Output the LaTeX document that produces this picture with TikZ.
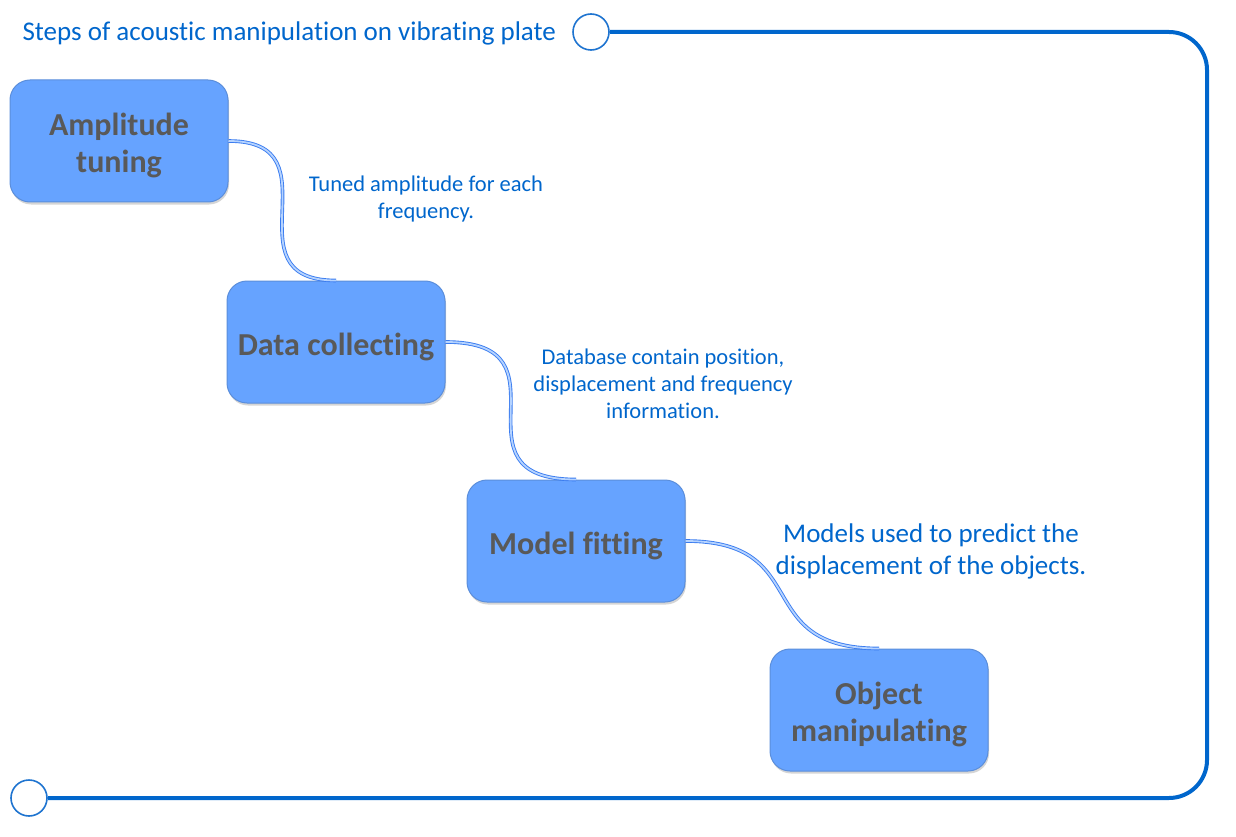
\documentclass[tikz,border=0pt]{standalone}
\usepackage{fontspec}
\setmainfont{Carlito}[Ligatures=CommonOff]
\usetikzlibrary{shadows}
\definecolor{frameblue}{HTML}{0066CC}
\definecolor{ringblue}{HTML}{1F74D0}
\definecolor{boxfill}{HTML}{66A3FF}
\definecolor{boxedge}{HTML}{5B8EDB}
\definecolor{boxtext}{HTML}{595959}
\definecolor{labelblue}{HTML}{0066CC}
\definecolor{linkedge}{HTML}{3A7CF0}
\definecolor{linkfill}{HTML}{B5D3FF}
\begin{document}
\begin{tikzpicture}[x=1pt,y=-1pt,
  stepbox/.style={draw=boxedge, fill=boxfill, line width=1pt, rounded corners=20pt,
    minimum width=218pt, minimum height=122pt, inner sep=0pt,
    drop shadow={shadow xshift=1pt, shadow yshift=-2.5pt, fill=gray!60, opacity=0.55}},
  steptext/.style={align=center, inner sep=0pt, text=boxtext, font=\fontsize{32}{37}\selectfont\bfseries},
  link/.style={draw=linkedge, line width=0.9pt, double=linkfill, double distance=1.8pt},
  note/.style={text=labelblue, align=center},
  frame/.style={draw=frameblue, line width=4pt},
  ring/.style={draw=ringblue, line width=1.6pt, fill=white, circle, minimum size=36pt, inner sep=0pt}]
\useasboundingbox (0,0) rectangle (1236,837);

\node[stepbox] (amp) at (119,141) {};
\node[stepbox] (data) at (336,342) {};
\node[stepbox] (model) at (576,541) {};
\node[stepbox] (obj) at (879,710) {};
\node[steptext] (amp-t) at ([yshift=-4.5pt]amp.center) {Amplitude\\tuning};
\node[steptext] (data-t) at ([yshift=-4.5pt]data.center) {Data collecting};
\node[steptext] (model-t) at ([yshift=-4.5pt]model.center) {Model fitting};
\node[steptext] (obj-t) at ([yshift=-4.5pt]obj.center) {Object\\manipulating};

\draw[link] (amp.east) .. controls +(112,0) and +(-112,0) .. (data.north);
\draw[link] (data.east) .. controls +(133,0) and +(-133,0) .. (model.north);
\draw[link] (model.east) .. controls +(130,0) and +(-130,0) .. (obj.north);

\node[note, font=\fontsize{22.5}{27}\selectfont] (l1) at (426,199) {Tuned amplitude for each\\frequency.};
\node[note, font=\fontsize{22.5}{27}\selectfont] (l2) at (663,384) {Database contain position,\\displacement and frequency\\information.};
\node[note, font=\fontsize{27}{32}\selectfont] (l3) at (931,551) {Models used to predict the\\displacement of the objects.};
\node[note, anchor=west, font=\fontsize{27}{30}\selectfont] (title) at (19,33) {Steps of acoustic manipulation on vibrating plate};

\node[ring] (top) at (591,32) {};
\node[ring] (bot) at (29,798) {};
\draw[frame, rounded corners=38pt] (top.east) -- (1207,32) -- (1207,798) -- (bot.east);
\end{tikzpicture}
\end{document}
